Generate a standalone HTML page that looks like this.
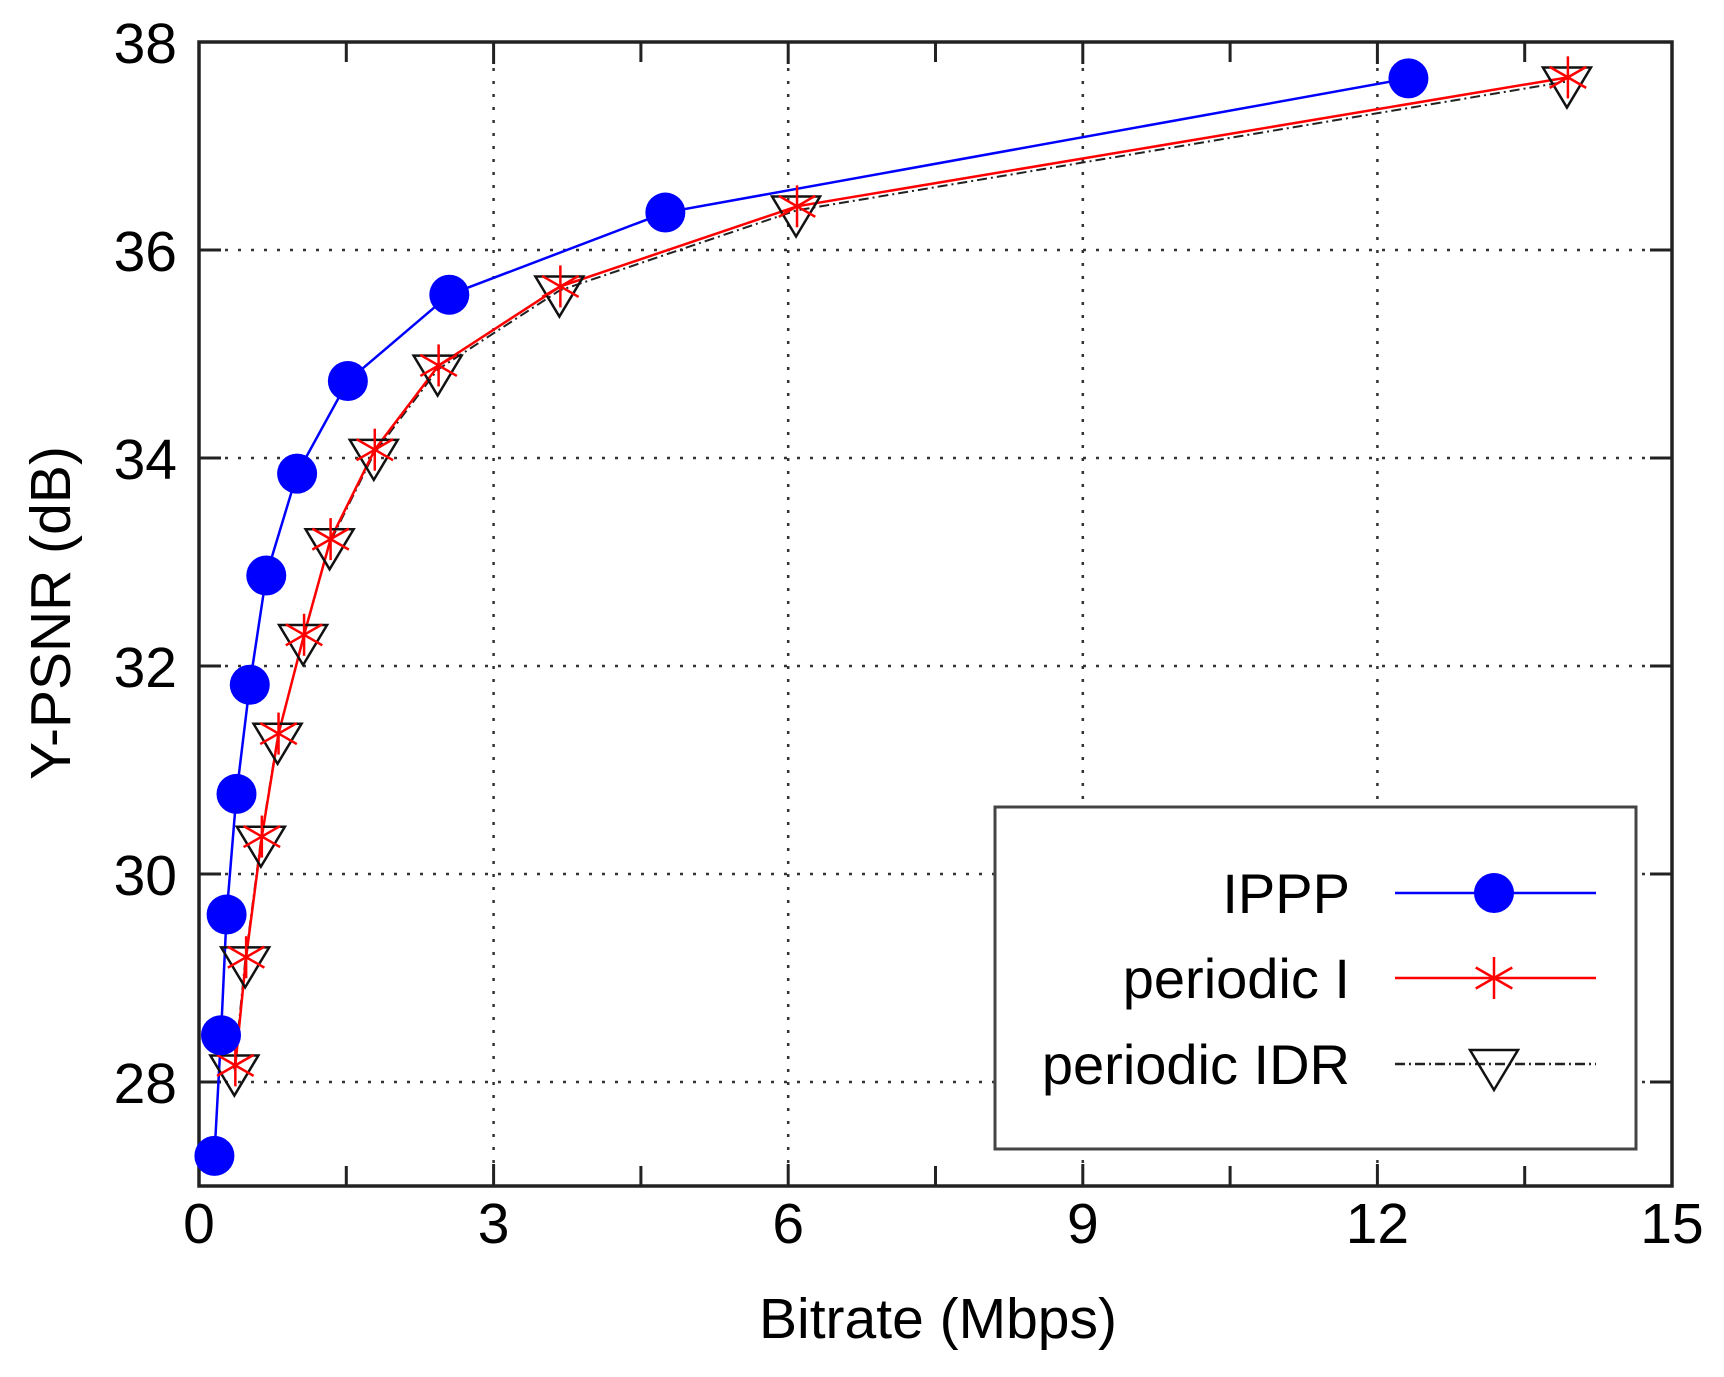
<!DOCTYPE html>
<html><head><meta charset="utf-8"><style>
html,body{margin:0;padding:0;background:#fff;}
svg{display:block;font-family:"Liberation Sans",sans-serif;}
</style></head><body>
<svg id="c" width="1724" height="1377" viewBox="0 0 1724 1377" xmlns="http://www.w3.org/2000/svg">
<rect width="1724" height="1377" fill="#fff"/>
<g id="grid" stroke="#333" stroke-width="2.5" stroke-dasharray="3,10" fill="none"></g>
<g id="ticks" stroke="#222" stroke-width="3" fill="none"></g>
<rect x="199" y="42" width="1473" height="1144" fill="none" stroke="#222" stroke-width="3.5"/>
<g id="labels" font-size="57" fill="#000"></g>
<text x="938" y="1338" font-size="57" text-anchor="middle">Bitrate (Mbps)</text>
<text transform="translate(70,613) rotate(-90)" font-size="57" text-anchor="middle">Y-PSNR (dB)</text>
<g id="series"></g>
<rect x="995" y="807" width="641" height="342" fill="#fff" stroke="#444" stroke-width="3"/>
<g font-size="56" text-anchor="end" fill="#000">
<text x="1350" y="913">IPPP</text>
<text x="1350" y="998">periodic I</text>
<text x="1350" y="1084">periodic IDR</text>
</g>
<g id="leg"></g>
</svg>
<script>
var NS="http://www.w3.org/2000/svg";
function X(v){return 199+98.2*v;} function Y(v){return 42+(38-v)*104;}
function el(p,t,a){var e=document.createElementNS(NS,t);for(var k in a)e.setAttribute(k,a[k]);p.appendChild(e);return e;}
var g=document.getElementById('grid'),tk=document.getElementById('ticks'),lb=document.getElementById('labels');
[3,6,9,12].forEach(function(v){el(g,'line',{x1:X(v),x2:X(v),y1:42,y2:1186});});
[28,30,32,34,36].forEach(function(v){el(g,'line',{x1:199,x2:1672,y1:Y(v),y2:Y(v)});});
for(var v=0;v<=15;v+=1.5){var L=(v%3==0)?22:20;el(tk,'line',{x1:X(v),x2:X(v),y1:1186,y2:1186-L});el(tk,'line',{x1:X(v),x2:X(v),y1:42,y2:42+L});}
for(var v=28;v<=38;v+=2){el(tk,'line',{x1:199,x2:221,y1:Y(v),y2:Y(v)});el(tk,'line',{x1:1672,x2:1650,y1:Y(v),y2:Y(v)});}
[0,3,6,9,12,15].forEach(function(v){var t=el(lb,'text',{x:X(v),y:1243,'text-anchor':'middle'});t.textContent=v;});
[28,30,32,34,36,38].forEach(function(v){var t=el(lb,'text',{x:177,y:Y(v)+21,'text-anchor':'end'});t.textContent=v;});
var A=[[0.157,27.29],[0.224,28.45],[0.281,29.61],[0.382,30.77],[0.517,31.82],[0.685,32.87],[0.999,33.85],[1.516,34.74],[2.549,35.57],[4.749,36.36],[12.316,37.65]];
var B=[[0.37,28.16],[0.48,29.2],[0.64,30.36],[0.81,31.35],[1.07,32.30],[1.34,33.22],[1.79,34.08],[2.44,34.89],[3.68,35.65],[6.09,36.42],[13.94,37.66]];
var C=B.map(function(p){return [p[0]-0.01,p[1]-0.04];});
var s=document.getElementById('series');
function pts(D){return D.map(function(p){return X(p[0])+','+Y(p[1]);}).join(' ');}
el(s,'polyline',{points:pts(C),fill:'none',stroke:'#222','stroke-width':2,'stroke-dasharray':'10,4,2,4'});
el(s,'polyline',{points:pts(B),fill:'none',stroke:'#f00','stroke-width':2.5});
el(s,'polyline',{points:pts(A),fill:'none',stroke:'#00f','stroke-width':2.5});
function star(p,x,y){var r=21;el(p,'line',{x1:x,x2:x,y1:y-r,y2:y+r,stroke:'#f00','stroke-width':2.5});
el(p,'line',{x1:x-r*0.87,x2:x+r*0.87,y1:y-r*0.5,y2:y+r*0.5,stroke:'#f00','stroke-width':2.5});
el(p,'line',{x1:x-r*0.87,x2:x+r*0.87,y1:y+r*0.5,y2:y-r*0.5,stroke:'#f00','stroke-width':2.5});}
function tri(p,x,y){var w=24;el(p,'polygon',{points:(x-w)+','+(y-14)+' '+(x+w)+','+(y-14)+' '+x+','+(y+26),fill:'none',stroke:'#111','stroke-width':2.5});}
C.forEach(function(p){tri(s,X(p[0]),Y(p[1]));});
B.forEach(function(p){star(s,X(p[0]),Y(p[1]));});
A.forEach(function(p){el(s,'circle',{cx:X(p[0]),cy:Y(p[1]),r:20,fill:'#00f'});});
var lg=document.getElementById('leg');
el(lg,'line',{x1:1395,x2:1596,y1:893,y2:893,stroke:'#00f','stroke-width':2.5});
el(lg,'circle',{cx:1494,cy:893,r:20,fill:'#00f'});
el(lg,'line',{x1:1395,x2:1596,y1:978,y2:978,stroke:'#f00','stroke-width':2.5});
star(lg,1494,978);
el(lg,'line',{x1:1395,x2:1596,y1:1064,y2:1064,stroke:'#222','stroke-width':2.5,'stroke-dasharray':'10,4,2,4'});
tri(lg,1494,1064);
</script>
</body></html>
